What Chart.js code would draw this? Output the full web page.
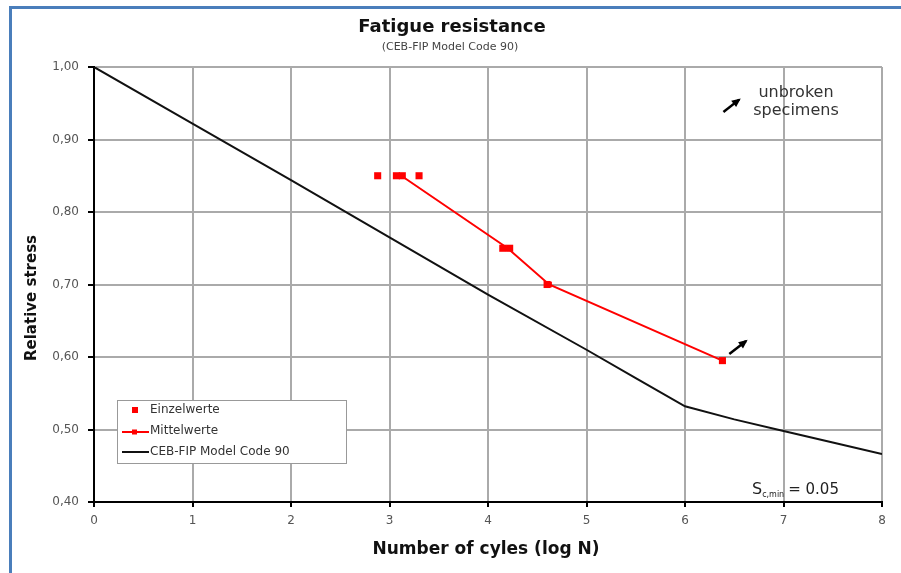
<!DOCTYPE html>
<html>
<head>
<meta charset="utf-8">
<script src="https://cdn.jsdelivr.net/npm/chart.js@4.4.1/dist/chart.umd.min.js"></script>
<style>
  html, body { margin: 0; padding: 0; background: #fff; }
  #wrap { width: 901px; height: 573px; position: relative; }
</style>
</head>
<body>
<div id="wrap"><canvas id="c" width="901" height="573"></canvas></div>
<script>
// ---- Data ----
const titleText = "Fatigue resistance";
const subtitleText = "(CEB-FIP Model Code 90)";
const xAxisTitle = "Number of cyles (log N)";
const yAxisTitle = "Relative stress";
const xTicks = [0, 1, 2, 3, 4, 5, 6, 7, 8];
const yTicks = [0.40, 0.50, 0.60, 0.70, 0.80, 0.90, 1.00];

// Einzelwerte (single test results)
const einzelX = [2.88, 3.07, 3.13, 3.30, 4.15, 4.22, 4.60, 6.38];
const einzelY = [0.85, 0.85, 0.85, 0.85, 0.75, 0.75, 0.70, 0.595];

// Mittelwerte (mean values)
const mittelX = [3.12, 4.20, 4.62, 6.38];
const mittelY = [0.85, 0.75, 0.70, 0.595];

// CEB-FIP Model Code 90 curve
const cebX = [0, 1, 2, 3, 4, 5, 5.5, 6, 6.5, 7, 7.5, 8];
const cebY = [1.00, 0.922, 0.844, 0.765, 0.686, 0.610, 0.571, 0.532, 0.514, 0.498, 0.482, 0.466];

const toPts = (xs, ys) => xs.map((x, i) => ({ x: x, y: ys[i] }));

const FONT = "'DejaVu Sans', 'Liberation Sans', Arial, sans-serif";

const decorPlugin = {
  id: 'decor',
  afterDraw(chart) {
    const ctx = chart.ctx;
    const xs = chart.scales.x, ys = chart.scales.y;
    ctx.save();
    // blue frame
    ctx.strokeStyle = '#4a7ebb';
    ctx.lineWidth = 3;
    ctx.beginPath();
    ctx.moveTo(10.5, 573);
    ctx.lineTo(10.5, 7.5);
    ctx.lineTo(901, 7.5);
    ctx.stroke();

    // title
    ctx.fillStyle = '#111';
    ctx.textAlign = 'center';
    ctx.textBaseline = 'middle';
    ctx.font = "bold 18px " + FONT;
    ctx.fillText(titleText, 452, 27);
    ctx.font = "11px " + FONT;
    ctx.fillStyle = '#444';
    ctx.fillText(subtitleText, 450, 47);

    // axis titles
    ctx.fillStyle = '#111';
    ctx.font = "bold 17px " + FONT;
    ctx.fillText(xAxisTitle, 486, 550);
    ctx.font = "bold 15px " + FONT;
    ctx.save();
    ctx.translate(32, 298);
    ctx.rotate(-Math.PI / 2);
    ctx.fillText(yAxisTitle, 0, 0);
    ctx.restore();

    // arrows
    function arrow(x1, y1, x2, y2) {
      const px1 = xs.getPixelForValue(x1), py1 = ys.getPixelForValue(y1);
      const px2 = xs.getPixelForValue(x2), py2 = ys.getPixelForValue(y2);
      ctx.strokeStyle = '#000';
      ctx.fillStyle = '#000';
      ctx.lineWidth = 2.5;
      ctx.beginPath();
      ctx.moveTo(px1, py1);
      ctx.lineTo(px2, py2);
      ctx.stroke();
      const a = Math.atan2(py2 - py1, px2 - px1);
      const L = 7, W = 4;
      ctx.beginPath();
      ctx.moveTo(px2 + Math.cos(a) * 2, py2 + Math.sin(a) * 2);
      ctx.lineTo(px2 - Math.cos(a) * L + Math.sin(a) * W, py2 - Math.sin(a) * L - Math.cos(a) * W);
      ctx.lineTo(px2 - Math.cos(a) * L - Math.sin(a) * W, py2 - Math.sin(a) * L + Math.cos(a) * W);
      ctx.closePath();
      ctx.fill();
    }
    arrow(6.45, 0.604, 6.62, 0.622);
    arrow(6.39, 0.938, 6.55, 0.955);

    // annotation text
    ctx.fillStyle = '#333';
    ctx.font = "16px " + FONT;
    ctx.textAlign = 'center';
    ctx.fillText("unbroken", 796, 93);
    ctx.fillText("specimens", 796, 111);

    // S_c,min = 0.05
    ctx.textAlign = 'left';
    ctx.textBaseline = 'alphabetic';
    ctx.fillStyle = '#222';
    ctx.font = "16px " + FONT;
    let x0 = 752;
    ctx.fillText("S", x0, 494);
    x0 += ctx.measureText("S").width;
    ctx.font = "8px " + FONT;
    ctx.fillText("c,min", x0, 497);
    x0 += ctx.measureText("c,min").width + 4;
    ctx.font = "15px " + FONT;
    ctx.fillText("= 0.05", x0, 494);

    // legend
    ctx.fillStyle = '#fff';
    ctx.fillRect(117, 400, 229, 63);
    ctx.strokeStyle = '#999';
    ctx.lineWidth = 1;
    ctx.strokeRect(117.5, 400.5, 229, 63);
    const ds = chart.data.datasets;
    ctx.font = "12px " + FONT;
    ctx.textBaseline = 'middle';
    // Einzelwerte
    ctx.fillStyle = ds[0].pointBackgroundColor;
    ctx.fillRect(132, 407, 6, 6);
    ctx.fillStyle = '#333';
    ctx.fillText(ds[0].label, 150, 410);
    // Mittelwerte
    ctx.strokeStyle = ds[1].borderColor;
    ctx.lineWidth = 2;
    ctx.beginPath(); ctx.moveTo(122, 432); ctx.lineTo(149, 432); ctx.stroke();
    ctx.fillStyle = ds[1].borderColor;
    ctx.fillRect(132, 429.5, 5, 5);
    ctx.fillStyle = '#333';
    ctx.fillText(ds[1].label, 150, 431);
    // CEB-FIP
    ctx.strokeStyle = ds[2].borderColor;
    ctx.lineWidth = 2;
    ctx.beginPath(); ctx.moveTo(122, 452); ctx.lineTo(149, 452); ctx.stroke();
    ctx.fillStyle = '#333';
    ctx.fillText(ds[2].label, 150, 452);

    ctx.restore();
  }
};

new Chart(document.getElementById('c'), {
  type: 'scatter',
  data: {
    datasets: [
      {
        label: 'Einzelwerte',
        data: toPts(einzelX, einzelY),
        showLine: false,
        pointStyle: 'rect',
        pointRadius: 5,
        pointBackgroundColor: '#ff0000',
        pointBorderWidth: 0,
        borderColor: '#ff0000',
        order: 1
      },
      {
        label: 'Mittelwerte',
        data: toPts(mittelX, mittelY),
        showLine: true,
        borderColor: '#ff0000',
        borderWidth: 2,
        pointStyle: 'rect',
        pointRadius: 4,
        pointBackgroundColor: '#ff0000',
        pointBorderWidth: 0,
        order: 2
      },
      {
        label: 'CEB-FIP Model Code 90',
        data: toPts(cebX, cebY),
        showLine: true,
        borderColor: '#111111',
        borderWidth: 2,
        pointRadius: 0,
        order: 3
      }
    ]
  },
  options: {
    responsive: false,
    animation: false,
    events: [],
    layout: { padding: { top: 67, right: 19, left: 14, bottom: 0 } },
    plugins: {
      legend: { display: false },
      tooltip: { enabled: false },
      title: { display: false }
    },
    scales: {
      x: {
        type: 'linear',
        min: 0, max: 8,
        afterBuildTicks: (s) => { s.ticks = xTicks.map(v => ({ value: v })); },
        afterFit: (s) => { s.height = 71; },
        ticks: {
          color: '#555',
          font: { family: FONT, size: 12 },
          padding: 7,
          maxRotation: 0,
          callback: (v) => String(v)
        },
        grid: { color: '#aaaaaa', lineWidth: 2, tickColor: '#000', tickLength: 5 },
        border: { color: '#000', width: 2 }
      },
      y: {
        type: 'linear',
        min: 0.4, max: 1.0,
        afterBuildTicks: (s) => { s.ticks = yTicks.map(v => ({ value: v })); },
        afterFit: (s) => { s.width = 80; },
        ticks: {
          color: '#555',
          font: { family: FONT, size: 12 },
          padding: 9,
          callback: (v) => v.toFixed(2).replace('.', ',')
        },
        grid: { color: '#aaaaaa', lineWidth: 2, tickColor: '#000', tickLength: 6 },
        border: { color: '#000', width: 2 }
      }
    }
  },
  plugins: [decorPlugin]
});
</script>
</body>
</html>
